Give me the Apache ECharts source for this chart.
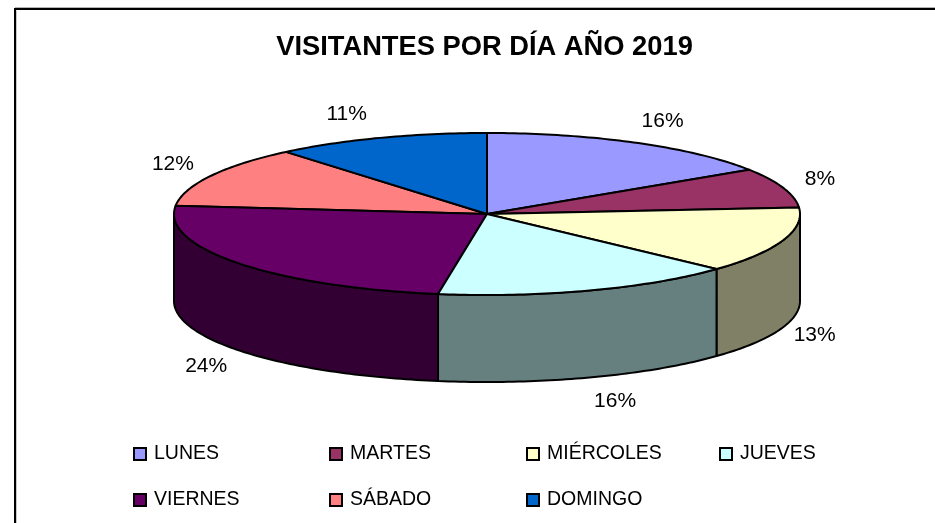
<!DOCTYPE html>
<html>
<head>
<meta charset="utf-8">
<style>
  html, body { margin: 0; padding: 0; background: #fff; }
  #chart { width: 935px; height: 523px; }
</style>
<script src="https://cdn.jsdelivr.net/npm/echarts@6/dist/echarts.min.js"></script>
</head>
<body>
<div id="chart"></div>
<script>
var categories = ['LUNES', 'MARTES', 'MIÉRCOLES', 'JUEVES', 'VIERNES', 'SÁBADO', 'DOMINGO']
var values = [15.8, 7.9, 13.2, 15.6, 24.1, 12.3, 11.1]
var topColors = ['#9999ff', '#993366', '#ffffcc', '#ccffff', '#660066', '#ff8080', '#0066cc']
var sideColors = ['#4d4d80', '#4d1a33', '#808066', '#668080', '#330033', '#804040', '#003366']
// desplazamiento horizontal de cada porcentaje
var labelShift = [8, 0, -5, 13, -2, -3, -20]

// geometria de la torta
var cx = 487, cy = 214, rx = 313, ry = 81, depth = 87
var labelRx = 352, labelRy = 106

var total = values.reduce(function (a, b) { return a + b }, 0)

function point (deg, dy) {
  var a = deg * Math.PI / 180
  return [cx + rx * Math.sin(a), cy - ry * Math.cos(a) + (dy || 0)]
}

function arc (from, to, dy) {
  var pts = []
  var steps = Math.max(2, Math.ceil(Math.abs(to - from)))
  for (var i = 0; i <= steps; i++) {
    pts.push(point(from + (to - from) * i / steps, dy))
  }
  return pts
}

function startAngle (index) {
  var sum = 0
  for (var i = 0; i < index; i++) sum += values[i]
  return sum / total * 360
}

function makeRender (index) {
  return function (params, api) {
    var value = api.value(0)
    var start = startAngle(index)
    var end = start + value / total * 360
    var mid = (start + end) / 2
    var children = []

    // pared lateral, solo la mitad delantera
    var wallFrom = Math.max(start, 90)
    var wallTo = Math.min(end, 270)
    if (wallTo > wallFrom) {
      children.push({
        type: 'polygon',
        shape: { points: arc(wallFrom, wallTo, 0).concat(arc(wallTo, wallFrom, depth)) },
        style: { fill: sideColors[index], stroke: '#000', lineWidth: 2, lineJoin: 'round' }
      })
    }
    children.push({
      type: 'polygon',
      shape: { points: [[cx, cy]].concat(arc(start, end, 0)) },
      style: { fill: topColors[index], stroke: '#000', lineWidth: 2, lineJoin: 'round' }
    })

    var a = mid * Math.PI / 180
    var isFront = Math.cos(a) < 0
    children.push({
      type: 'text',
      z2: 10,
      x: cx + labelRx * Math.sin(a) + labelShift[index],
      y: cy - labelRy * Math.cos(a) + (isFront ? depth : 0),
      style: {
        text: Math.round(value / total * 100) + '%',
        fill: '#000',
        font: '21px "Liberation Sans", Arial, sans-serif',
        align: 'center',
        verticalAlign: 'middle'
      }
    })
    return { type: 'group', children: children }
  }
}

// las paredes traseras primero: se dibuja de atras hacia adelante
var drawOrder = { LUNES: 1, MARTES: 2, 'MIÉRCOLES': 3, JUEVES: 5, VIERNES: 4, 'SÁBADO': 1, DOMINGO: 1 }

var series = categories.map(function (name, i) {
  return {
    type: 'custom',
    name: name,
    coordinateSystem: 'none',
    silent: true,
    animation: false,
    z: drawOrder[name],
    itemStyle: { color: topColors[i] },
    data: [[values[i]]],
    renderItem: makeRender(i)
  }
})

function column (left, top, names) {
  return {
    left: left,
    top: top,
    orient: 'vertical',
    padding: 0,
    itemGap: 26,
    itemWidth: 12,
    itemHeight: 12,
    icon: 'rect',
    selectedMode: false,
    itemStyle: { borderColor: '#000', borderWidth: 2 },
    textStyle: { color: '#000', fontSize: 19.5, fontFamily: '"Liberation Sans", Arial, sans-serif', padding: [0, 0, 0, 3] },
    data: names
  }
}

var chart = echarts.init(document.getElementById('chart'))
chart.setOption({
  animation: false,
  backgroundColor: '#fff',
  title: {
    text: 'VISITANTES POR DÍA AÑO 2019',
    left: 484.5,
    top: 34,
    textAlign: 'center',
    padding: 0,
    textStyle: { color: '#000', fontSize: 27.3, fontWeight: 'bold', fontFamily: '"Liberation Sans", Arial, sans-serif' }
  },
  legend: [
    column(133, 444, ['LUNES', 'VIERNES']),
    column(329, 444, ['MARTES', 'SÁBADO']),
    column(526, 444, ['MIÉRCOLES', 'DOMINGO']),
    column(719, 444, ['JUEVES'])
  ],
  graphic: [
    { type: 'polyline', silent: true, shape: { points: [[16.5, 523], [16.5, 10.5]] }, style: { fill: null, stroke: '#c8c8c8', lineWidth: 1 } },
    { type: 'polyline', silent: true, shape: { points: [[15, 7.5], [935, 7.5]] }, style: { fill: null, stroke: '#b4b4b4', lineWidth: 1 } },
    { type: 'polyline', silent: true, shape: { points: [[15, 523], [15, 9], [935, 9]] }, style: { fill: null, stroke: '#000', lineWidth: 2 } }
  ],
  series: series
})
</script>
</body>
</html>
